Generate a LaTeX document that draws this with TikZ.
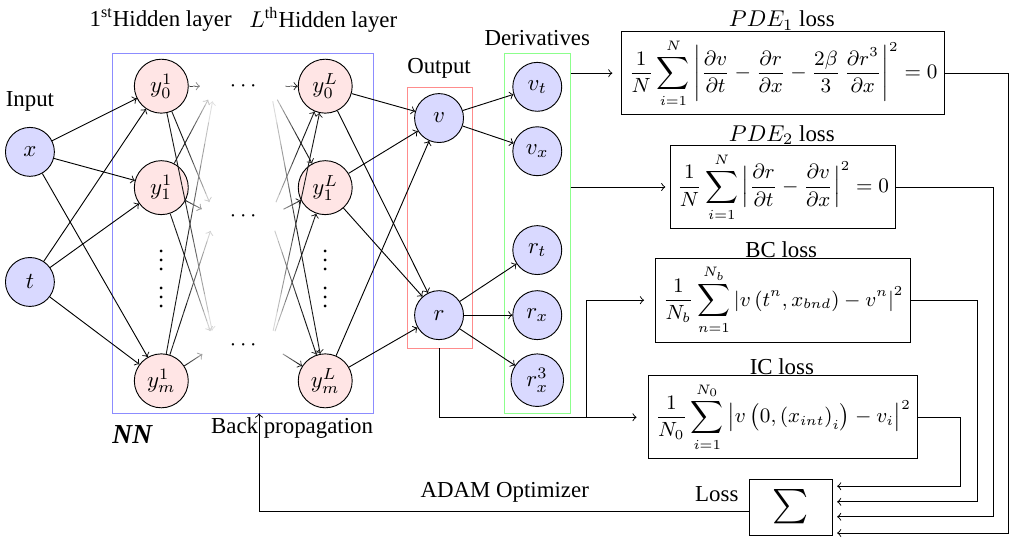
\documentclass[tikz,border=0pt]{standalone}
\usepackage{fontspec}
\setmainfont{Liberation Serif}
\usetikzlibrary{arrows,calc,positioning}
\newdimen\fadex
% edge whose ink follows x: full at #3 (cm), faint at #4 (cm)
\newcommand{\fadeedge}[4]{%
  \path (#1) -- (#2) coordinate[pos=0] (fs) coordinate[pos=1] (fe);
  \foreach \k in {0,...,11}{
    \path ($(fs)!{(\k+0.5)/12}!(fe)$) coordinate (fm);
    \pgfextractx{\fadex}{\pgfpointanchor{fm}{center}}
    \pgfmathsetmacro\ink{max(10,min(90,90-80*(\fadex/28.4528-#3)/(#4-#3)))}
    \ifnum\k<11
      \draw[black!\ink] ($(fs)!{\k/12}!(fe)$) -- ($(fs)!{(\k+1)/12}!(fe)$);
    \else
      \draw[black!\ink,->] ($(fs)!{\k/12}!(fe)$) -- (fe);
    \fi
  }%
}

\begin{document}
\begin{tikzpicture}[
  innode/.style={circle, draw, fill=blue!15, minimum size=21.4pt, inner sep=1pt},
  hidnode/.style={circle, draw, fill=red!10, minimum size=23.6pt, inner sep=1pt},
  ghost/.style={circle, minimum size=13pt, inner sep=0pt},
  lossbox/.style={draw, inner sep=3pt, font=\small},
  frame/.style={minimum width=#1, inner sep=0pt},
]
\useasboundingbox (0,0) rectangle (15.62,8.455);
% frames
\node[frame=4.01cm, draw=blue!45, minimum height=5.53cm] (nnbox) at (3.73,4.87) {};
\node[frame=1.00cm, draw=red!45, minimum height=4.01cm] (outbox) at (6.76,5.11) {};
\node[frame=1.01cm, draw=green!45, minimum height=5.53cm] (derivbox) at (8.26,4.87) {};
% input
\node[innode] (x) at (0.46,6.12) {$x$};
\node[innode] (t) at (0.46,4.12) {$t$};
% hidden layers
\node[hidnode] (a0) at (2.48,7.13) {$y_0^1$};
\node[hidnode] (a1) at (2.48,5.57) {$y_1^1$};
\node[hidnode] (am) at (2.48,2.60) {$y_m^1$};
\node[hidnode] (b0) at (5.00,7.13) {$y_0^L$};
\node[hidnode] (b1) at (5.00,5.57) {$y_1^L$};
\node[hidnode] (bm) at (5.00,2.60) {$y_m^L$};
\node[align=center, inner sep=0pt] (vd1) at (2.48,4.27) {$\vdots$\\$\vdots$};
\node[align=center, inner sep=0pt] (vdL) at (5.00,4.27) {$\vdots$\\$\vdots$};
\node (hd0) at (3.74,7.13) {$\cdots$};
\node (hd1) at (3.74,5.13) {$\cdots$};
\node (hdm) at (3.74,3.14) {$\cdots$};
\node[ghost] (m0) at (3.31,7.13) {};
\node[ghost] (m1) at (3.31,5.13) {};
\node[ghost] (mm) at (3.31,3.14) {};
\node[ghost] (n0) at (4.15,7.13) {};
\node[ghost] (n1) at (4.15,5.13) {};
\node[ghost] (nm) at (4.15,3.14) {};
% output and derivatives
\node[innode] (v) at (6.75,6.64) {$v$};
\node[innode] (r) at (6.75,3.61) {$r$};
\node[innode] (vt) at (8.26,7.12) {$v_t$};
\node[innode] (vx) at (8.26,6.13) {$v_x$};
\node[innode] (rt) at (8.26,4.61) {$r_t$};
\node[innode] (rx) at (8.26,3.61) {$r_x$};
\node[innode, minimum size=23pt] (rx3) at (8.26,2.61) {$r_x^3$};
% losses
\node[lossbox] (pde1) at (12.04,7.33) {$\displaystyle\frac{1}{N}\sum_{i=1}^{N}\left|\frac{\partial v}{\partial t}-\frac{\partial r}{\partial x}-\frac{2\beta}{3}\,\frac{\partial r^3}{\partial x}\right|^2=0$};
\node[lossbox] (pde2) at (12.04,5.58) {$\displaystyle\frac{1}{N}\sum_{i=1}^{N}\left|\frac{\partial r}{\partial t}-\frac{\partial v}{\partial x}\right|^2=0$};
\node[lossbox] (bc) at (12.04,3.84) {$\displaystyle\frac{1}{N_b}\sum_{n=1}^{N_b}\left|v\left(t^n,x_{bnd}\right)-v^n\right|^2$};
\node[lossbox] (ic) at (12.04,2.04) {$\displaystyle\frac{1}{N_0}\sum_{i=1}^{N_0}\left|v\left(0,\left(x_{int}\right)_i\right)-v_i\right|^2$};
\node[draw, minimum width=36pt, minimum height=24.5pt, inner sep=0pt] (sum) at (12.16,0.66) {\scalebox{1.5}{$\sum$}};
% labels
\node (lin) at (0.46,6.89) {Input};
\node (lh1) at (2.47,8.15) {1\textsuperscript{st}Hidden layer};
\node (lhL) at (4.97,8.15) {$L$\textsuperscript{th}Hidden layer};
\node (lout) at (6.75,7.41) {Output};
\node (lder) at (8.26,7.87) {Derivatives};
\node (lnn) at (2.04,1.77) {\large\textbf{\textit{NN}}};
\node (lbp) at (4.49,1.88) {Back propagation};
\node (ladam) at (7.76,0.88) {ADAM Optimizer};
\node (lloss) at (11.02,0.86) {Loss};
\node (lp1) at (12.02,8.14) {$PDE_1$ loss};
\node (lp2) at (12.02,6.38) {$PDE_2$ loss};
\node (lbc) at (12.01,4.61) {BC loss};
\node (lic) at (12.02,2.81) {IC loss};
% network edges
\foreach \i in {x,t} \foreach \j in {a0,a1,am} \draw[->] (\i) -- (\j);
\foreach \i in {a0,a1,am} \foreach \j in {m0,m1,mm} \fadeedge{\i}{\j}{2.85}{3.25};
\foreach \i in {n0,n1,nm} \foreach \j in {b0,b1,bm} \fadeedge{\i}{\j}{4.60}{4.20};
\foreach \i in {b0,b1,bm} \foreach \j in {v,r} \draw[->] (\i) -- (\j);
\draw[->] (v) -- (vt);
\draw[->] (v) -- (vx);
\draw[->] (r) -- (rt);
\draw[->] (r) -- (rx);
\draw[->] (r) -- (rx3);
% into the losses
\draw[->, shorten >=4pt] (derivbox.east |- pde1.west) -- (pde1.west);
\draw[->, shorten >=2pt] (derivbox.east |- pde2.west) -- (pde2.west);
\draw[->, shorten >=5pt] (outbox.south) |- (ic.west);
\path (outbox.south |- ic.west) ++(2.26,0) coordinate (fork);
\draw[->, shorten >=5pt] (fork) |- (bc.west);
% into the sum
\coordinate (c1) at (15.50,0.26);
\coordinate (c2) at (15.27,0.51);
\coordinate (c3) at (15.02,0.74);
\coordinate (c4) at (14.77,0.98);
\draw[->, shorten >=2pt] (pde1.east) -| (c1) -- (sum.east |- c1);
\draw[->, shorten >=2pt] (pde2.east) -| (c2) -- (sum.east |- c2);
\draw[->, shorten >=2pt] (bc.east) -| (c3) -- (sum.east |- c3);
\draw[->, shorten >=2pt] (ic.east) -| (c4) -- (sum.east |- c4);
% back to the network
\draw[->] ([yshift=-2pt]sum.west) -| ([xshift=7.2pt]nnbox.south);
\end{tikzpicture}
\end{document}
